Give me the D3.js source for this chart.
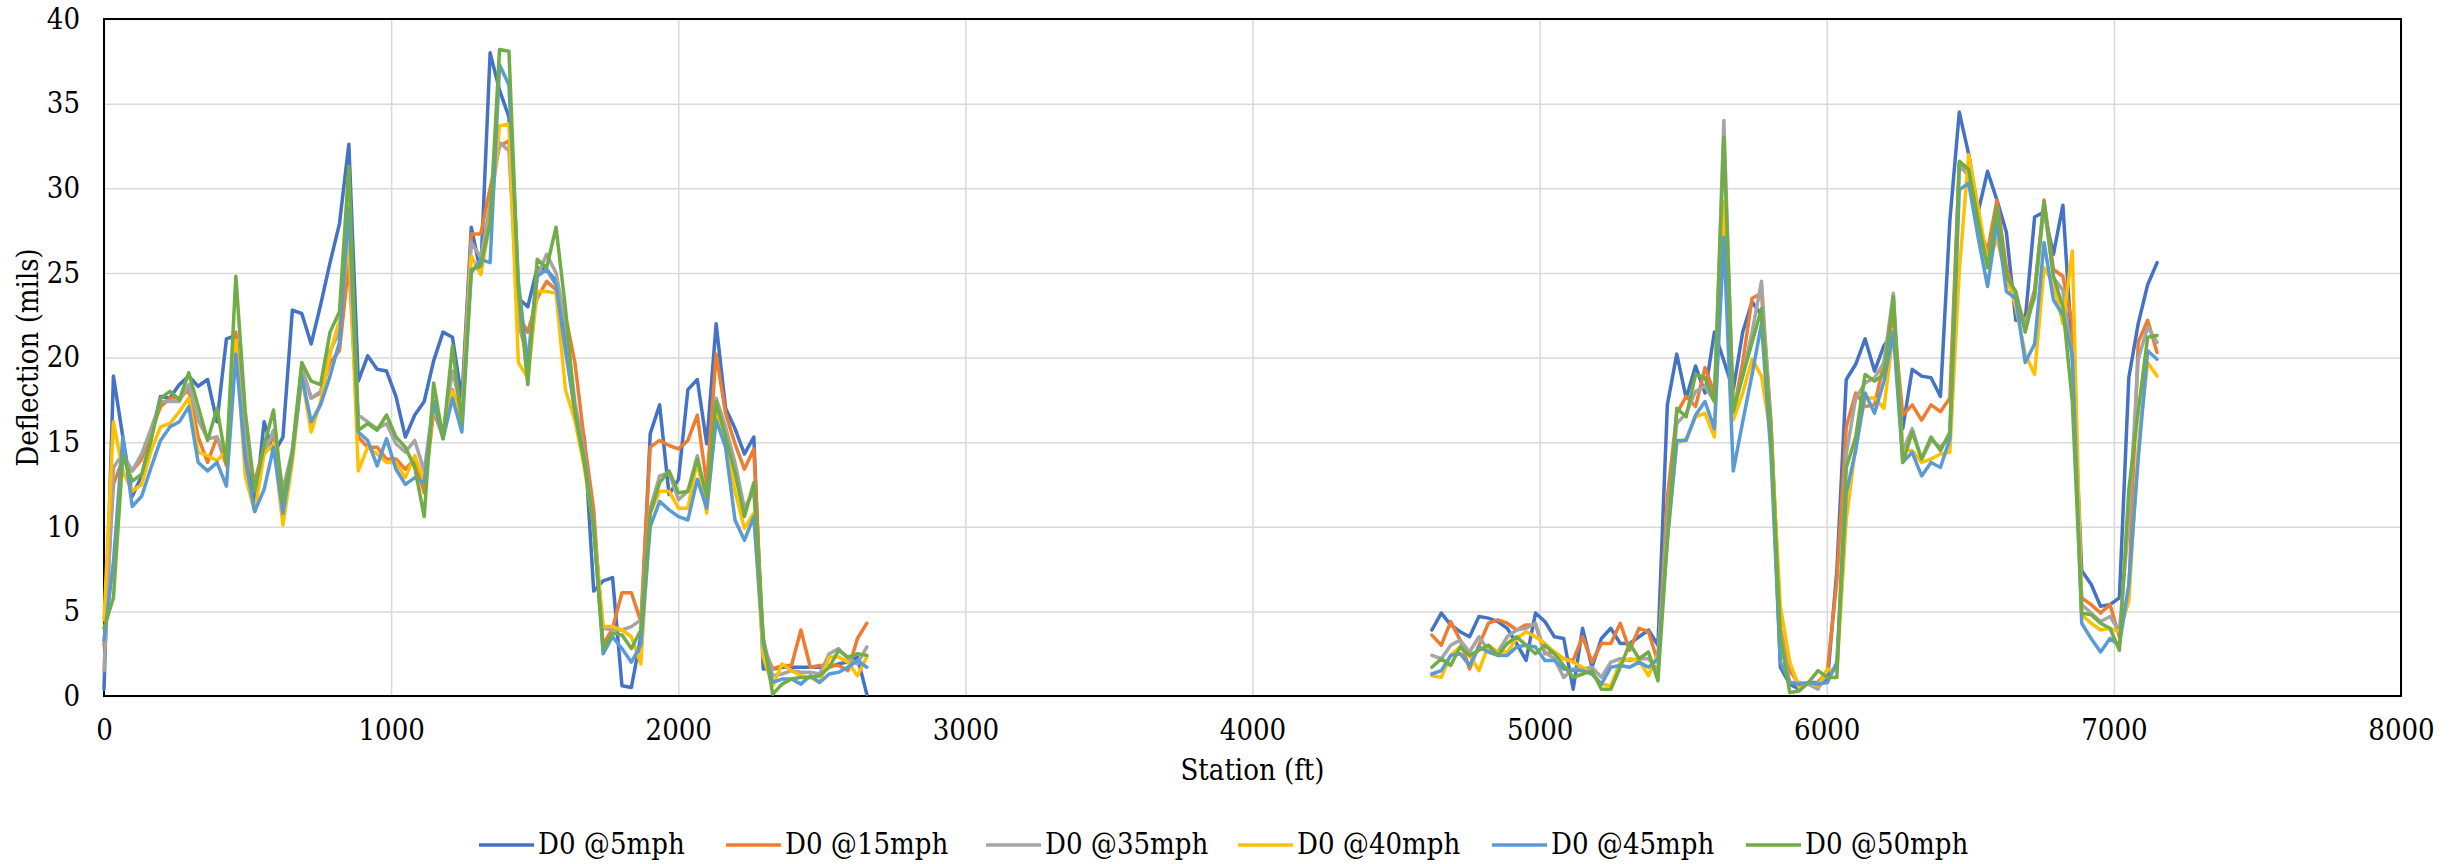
<!DOCTYPE html>
<html lang="en">
<head>
<meta charset="UTF-8">
<title>Deflection vs Station</title>
<script src="https://cdn.jsdelivr.net/npm/d3@7"></script>
<style>
    html, body { margin: 0; padding: 0; background: #fff; }
    svg { display: block; }
    svg text { font-family: "DejaVu Serif Condensed", "DejaVu Serif", serif; font-stretch: condensed; fill: #000; }
</style>
</head>
<body>
<svg id="chart"></svg>
<script>
    /* data: D0 deflection (mils), one reading every 10 m (32.8 ft) */
    const STEP_FT = 32.8;
    const stationsA = d3.range(0, 82).map(i => i * STEP_FT);     // 0 .. ~2657 ft
    const stationsB = d3.range(141, 219).map(i => i * STEP_FT);  // ~4625 .. ~7150 ft

    const seriesNames = ["D0 @5mph", "D0 @15mph", "D0 @35mph", "D0 @40mph", "D0 @45mph", "D0 @50mph"];
    const seriesColors = ["#4472C4", "#ED7D31", "#A5A5A5", "#FFC000", "#5B9BD5", "#70AD47"];

    const xTicks = [0, 1000, 2000, 3000, 4000, 5000, 6000, 7000, 8000];
    const yTicks = [0, 5, 10, 15, 20, 25, 30, 35, 40];

    const d5A = [0.4, 18.9, 15.3, 11.8, 13.0, 15.3, 17.7, 17.6, 18.4, 18.9,
        18.3, 18.7, 16.2, 21.1, 21.3, 16.1, 10.9, 16.2, 14.3, 15.3,
        22.8, 22.6, 20.8, 23.1, 25.6, 27.9, 32.6, 18.6, 20.1, 19.3,
        19.2, 17.7, 15.3, 16.6, 17.4, 19.8, 21.5, 21.2, 17.5, 27.7,
        25.0, 38.0, 35.8, 34.2, 23.5, 23.0, 25.3, 25.2, 24.5, 21.0,
        16.8, 15.3, 6.2, 6.8, 7.0, 0.6, 0.5, 3.5, 15.5, 17.2,
        11.9, 12.8, 18.1, 18.7, 14.9, 22.0, 17.0, 15.8, 14.3, 15.3,
        1.6, 1.6, 1.7, 1.7, 1.7, 1.7, 1.7, 1.7, 1.9, 2.0,
        2.3, 0.1];
    const d15A = [3.0, 12.5, 14.0, 13.3, 14.0, 15.6, 17.1, 17.6, 17.6, 18.1,
        15.3, 13.8, 15.3, 13.6, 21.5, 14.3, 12.7, 14.7, 15.3, 11.5,
        14.3, 19.4, 17.6, 17.9, 19.7, 20.4, 25.6, 15.3, 14.7, 14.7,
        14.0, 14.0, 13.4, 14.0, 12.0, 16.8, 15.3, 18.1, 16.3, 27.3,
        27.3, 30.0, 32.5, 32.8, 22.5, 21.5, 23.5, 24.5, 24.0, 22.5,
        19.7, 15.1, 11.0, 3.0, 4.0, 6.1, 6.1, 4.4, 14.7, 15.1,
        14.8, 14.6, 15.1, 16.6, 12.5, 20.2, 16.7, 14.9, 13.4, 14.6,
        2.9, 1.6, 1.8, 1.8, 3.9, 1.7, 1.8, 1.8, 1.8, 1.5,
        3.4, 4.3];
    const d35A = [1.5, 13.5, 14.3, 13.3, 14.3, 15.8, 17.4, 17.4, 17.4, 18.4,
        16.3, 15.2, 15.3, 14.0, 20.9, 15.3, 12.4, 14.3, 15.7, 12.2,
        14.5, 19.4, 17.6, 18.0, 20.4, 21.5, 27.9, 16.6, 16.2, 15.8,
        16.1, 14.9, 14.4, 15.1, 13.3, 17.4, 15.6, 19.2, 16.8, 26.8,
        25.9, 29.0, 32.7, 32.2, 22.0, 20.0, 24.8, 26.1, 25.0, 22.0,
        17.4, 14.3, 10.0, 4.0, 3.9, 3.9, 4.1, 4.5, 11.1, 13.0,
        13.2, 11.6, 12.1, 14.2, 11.4, 17.6, 15.9, 13.8, 11.1, 12.1,
        3.3, 1.2, 1.3, 1.5, 1.4, 1.4, 1.3, 2.5, 2.8, 2.2,
        1.9, 2.9];
    const d40A = [4.5, 16.2, 13.3, 12.1, 12.5, 14.5, 15.9, 16.1, 16.8, 17.6,
        14.4, 14.2, 13.9, 14.5, 21.0, 13.0, 10.9, 14.3, 14.9, 10.1,
        13.8, 18.9, 15.6, 17.4, 20.2, 22.2, 27.1, 13.3, 14.7, 14.3,
        13.8, 13.8, 12.9, 14.2, 12.7, 17.1, 15.3, 18.0, 16.1, 26.0,
        24.9, 28.0, 33.7, 33.8, 19.7, 18.8, 23.9, 23.9, 23.8, 18.1,
        16.3, 13.5, 10.0, 4.1, 4.1, 3.9, 3.5, 1.9, 10.8, 12.1,
        12.1, 11.1, 11.1, 13.9, 10.8, 16.8, 15.1, 12.1, 9.9, 10.8,
        2.3, 0.6, 1.9, 1.5, 1.2, 1.1, 0.8, 2.3, 2.3, 2.0,
        1.2, 2.3];
    const d45A = [3.3, 7.9, 15.3, 11.2, 11.8, 13.5, 15.1, 15.9, 16.2, 17.1,
        13.8, 13.3, 13.8, 12.4, 20.2, 14.0, 10.9, 12.2, 14.7, 10.8,
        14.3, 18.9, 16.2, 17.2, 18.9, 20.9, 28.9, 15.6, 15.1, 13.6,
        15.2, 13.4, 12.5, 12.9, 12.6, 17.4, 15.2, 17.6, 15.6, 25.0,
        25.8, 25.6, 37.3, 36.1, 24.5, 19.5, 24.8, 25.2, 24.3, 20.4,
        16.8, 14.0, 10.0, 2.5, 3.5, 2.8, 2.0, 3.0, 10.0, 11.5,
        11.0, 10.6, 10.4, 12.8, 11.1, 16.3, 14.7, 10.4, 9.2, 10.6,
        3.1, 0.8, 1.0, 1.0, 0.7, 1.2, 0.8, 1.3, 1.4, 1.7,
        2.1, 1.7];
    const d50A = [4.0, 5.8, 14.2, 12.7, 13.1, 15.1, 17.6, 18.0, 17.5, 19.1,
        17.1, 15.1, 17.0, 13.8, 24.8, 16.8, 12.1, 14.8, 16.9, 11.5,
        14.5, 19.7, 18.6, 18.4, 21.5, 22.7, 31.3, 15.7, 16.1, 15.7,
        16.6, 15.3, 14.7, 13.5, 10.6, 18.5, 15.2, 20.7, 16.1, 25.2,
        25.4, 28.0, 38.2, 38.1, 24.0, 18.4, 25.8, 25.3, 27.7, 22.9,
        16.8, 13.8, 9.9, 2.8, 3.7, 3.6, 2.8, 3.9, 10.8, 12.6,
        13.3, 12.0, 12.1, 14.0, 11.8, 17.4, 15.3, 13.2, 10.6, 12.6,
        3.5, 0.1, 0.7, 1.0, 1.1, 1.1, 1.2, 1.7, 2.7, 2.3,
        2.5, 2.4];

    const d5B = [3.9, 4.9, 4.2, 3.8, 3.5, 4.7, 4.6, 4.4, 4.0, 3.1,
        2.1, 4.9, 4.4, 3.5, 3.4, 0.4, 4.0, 1.7, 3.4, 4.0,
        3.1, 3.1, 3.5, 3.9, 3.0, 17.2, 20.2, 17.6, 19.5, 17.9,
        21.5, 19.8, 18.1, 21.5, 23.3, 22.5, 15.8, 1.7, 0.7, 0.4,
        0.8, 0.8, 0.9, 7.4, 18.7, 19.6, 21.1, 19.2, 20.7, 21.5,
        15.8, 19.3, 18.9, 18.8, 17.7, 28.1, 34.5, 32.0, 28.6, 31.0,
        29.3, 27.4, 22.2, 22.2, 28.3, 28.6, 26.1, 29.0, 20.2, 7.4,
        6.6, 5.3, 5.4, 5.8, 18.8, 22.0, 24.3, 25.6];
    const d15B = [3.6, 3.0, 4.4, 3.3, 1.6, 3.0, 4.3, 4.5, 4.3, 3.9,
        4.2, 4.2, 2.5, 2.6, 2.2, 2.1, 3.5, 2.0, 3.1, 3.1,
        4.3, 2.7, 4.0, 3.8, 2.0, 11.7, 16.7, 17.7, 17.1, 19.4,
        17.9, 27.5, 16.7, 19.7, 23.5, 23.8, 16.3, 4.0, 1.5, 0.7,
        0.7, 0.8, 1.5, 6.8, 15.9, 17.9, 17.1, 17.2, 19.7, 22.5,
        16.6, 17.2, 16.3, 17.2, 16.8, 17.6, 31.5, 30.7, 27.9, 26.3,
        29.3, 25.3, 23.5, 22.0, 24.0, 29.3, 25.2, 24.8, 22.0, 5.8,
        5.4, 4.9, 5.4, 3.5, 6.1, 20.9, 22.2, 20.3];
    const d35B = [2.4, 2.2, 3.0, 3.3, 2.6, 3.5, 2.7, 2.6, 3.5, 3.9,
        4.0, 4.3, 2.6, 2.2, 1.1, 1.6, 1.6, 1.7, 1.1, 2.0,
        2.2, 2.1, 2.2, 2.2, 1.5, 10.4, 16.1, 16.7, 18.0, 18.3,
        17.4, 34.0, 17.0, 18.9, 21.5, 24.5, 15.9, 3.8, 0.8, 0.8,
        0.7, 0.4, 1.5, 1.5, 14.3, 17.6, 18.5, 18.8, 19.7, 23.8,
        14.5, 15.8, 14.0, 15.1, 14.7, 15.3, 31.3, 30.8, 27.6, 25.6,
        28.6, 24.5, 23.5, 22.0, 23.5, 29.0, 24.7, 24.0, 19.9, 5.4,
        4.9, 4.4, 4.7, 3.8, 10.4, 19.9, 21.8, 20.9];
    const d40B = [1.2, 1.1, 2.4, 2.9, 2.4, 1.5, 3.0, 2.6, 2.6, 3.4,
        3.8, 3.5, 3.1, 2.6, 2.2, 2.0, 1.7, 1.3, 0.7, 0.6,
        2.0, 2.2, 2.1, 1.2, 2.5, 9.2, 14.9, 15.2, 16.5, 16.7,
        15.3, 29.2, 16.3, 17.9, 19.9, 18.9, 15.3, 5.3, 2.0, 0.5,
        0.8, 0.6, 1.6, 1.5, 10.4, 14.8, 17.6, 17.6, 17.0, 21.5,
        14.5, 14.5, 13.8, 14.0, 14.3, 14.4, 25.1, 32.0, 28.9, 25.6,
        27.0, 24.8, 23.0, 20.2, 19.0, 25.3, 24.4, 22.0, 26.3, 4.8,
        4.3, 3.9, 4.0, 3.8, 5.6, 14.8, 19.7, 18.9];
    const d45B = [1.3, 1.5, 2.4, 2.5, 1.8, 2.9, 2.6, 2.4, 2.4, 2.9,
        3.0, 2.9, 2.1, 2.1, 1.6, 1.5, 1.5, 1.3, 0.7, 1.7,
        1.8, 1.7, 2.0, 1.7, 2.2, 9.2, 15.1, 15.1, 16.6, 17.4,
        15.8, 27.1, 13.3, 16.2, 19.0, 22.0, 14.3, 2.0, 0.8, 0.7,
        0.8, 0.7, 0.8, 2.0, 12.0, 14.5, 17.9, 16.7, 18.6, 21.5,
        13.8, 14.4, 13.0, 13.8, 13.5, 15.2, 29.9, 30.3, 27.1, 24.2,
        28.0, 23.9, 23.5, 19.7, 20.8, 26.8, 23.4, 22.5, 20.2, 4.3,
        3.4, 2.6, 3.4, 3.0, 6.6, 14.0, 20.4, 19.9];
    const d50B = [1.7, 2.2, 1.8, 2.9, 2.4, 2.7, 3.0, 2.4, 3.1, 3.5,
        3.0, 2.5, 3.0, 2.5, 1.8, 1.1, 1.3, 1.5, 0.4, 0.4,
        1.7, 3.1, 2.2, 2.6, 0.9, 9.2, 17.0, 16.5, 19.0, 18.8,
        17.4, 33.0, 16.8, 18.9, 20.9, 22.9, 15.6, 3.5, 0.2, 0.3,
        0.8, 1.5, 1.1, 1.1, 13.5, 15.3, 19.0, 18.6, 19.0, 23.6,
        13.8, 15.6, 14.0, 15.3, 14.5, 15.6, 31.6, 31.1, 28.1, 25.3,
        28.9, 24.8, 23.9, 21.5, 23.8, 29.2, 24.8, 23.0, 17.4, 4.9,
        4.8, 4.3, 4.0, 2.7, 12.2, 16.8, 21.2, 21.3];

    const valuesA = [d5A, d15A, d35A, d40A, d45A, d50A];
    const valuesB = [d5B, d15B, d35B, d40B, d45B, d50B];

    /* layout */
    const width = 2456;
    const height = 864;
    const plot = {left: 104, right: 2401, top: 19, bottom: 696};
    const fontSize = 29;
    const legendX = [479, 726, 986, 1238, 1492, 1746];

    const svg = d3.select("#chart")
        .attr("width", width)
        .attr("height", height);

    svg.append("rect")
        .attr("width", width)
        .attr("height", height)
        .attr("fill", "#fff");

    const x = d3.scaleLinear().domain([0, 8000]).range([plot.left, plot.right]);
    const y = d3.scaleLinear().domain([0, 40]).range([plot.bottom, plot.top]);

    /* gridlines */
    svg.append("g")
        .attr("transform", `translate(0,${plot.bottom})`)
        .call(d3.axisBottom(x).tickValues(xTicks).tickSize(-(plot.bottom - plot.top)).tickFormat(""))
        .call(g => g.select(".domain").remove())
        .call(g => g.selectAll("line").attr("stroke", "#d9d9d9").attr("stroke-width", 1.5));

    svg.append("g")
        .attr("transform", `translate(${plot.left},0)`)
        .call(d3.axisLeft(y).tickValues(yTicks).tickSize(-(plot.right - plot.left)).tickFormat(""))
        .call(g => g.select(".domain").remove())
        .call(g => g.selectAll("line").attr("stroke", "#d9d9d9").attr("stroke-width", 1.5));

    /* tick labels */
    svg.append("g")
        .attr("transform", `translate(0,${plot.bottom})`)
        .call(d3.axisBottom(x).tickValues(xTicks).tickSize(0).tickPadding(23).tickFormat(d3.format("d")))
        .attr("font-size", fontSize)
        .call(g => g.select(".domain").remove());

    svg.append("g")
        .attr("transform", `translate(${plot.left},0)`)
        .call(d3.axisLeft(y).tickValues(yTicks).tickSize(0).tickPadding(24).tickFormat(d3.format("d")))
        .attr("font-size", fontSize)
        .call(g => g.select(".domain").remove());

    /* plot frame */
    svg.append("rect")
        .attr("x", plot.left)
        .attr("y", plot.top)
        .attr("width", plot.right - plot.left)
        .attr("height", plot.bottom - plot.top)
        .attr("fill", "none")
        .attr("stroke", "#000")
        .attr("stroke-width", 2);

    /* series lines, two surveyed stretches each */
    const line = d3.line()
        .x(d => x(d[0]))
        .y(d => y(d[1]));

    seriesNames.forEach((name, k) => {
        const g = svg.append("g").attr("class", "series");
        [[stationsA, valuesA[k]], [stationsB, valuesB[k]]].forEach(([st, vals]) => {
            g.append("path")
                .datum(d3.zip(st, vals))
                .attr("d", line)
                .attr("fill", "none")
                .attr("stroke", seriesColors[k])
                .attr("stroke-width", 3.5)
                .attr("stroke-linejoin", "round")
                .attr("stroke-linecap", "round");
        });
    });

    /* axis titles */
    svg.append("text")
        .attr("x", (plot.left + plot.right) / 2)
        .attr("y", 780)
        .attr("text-anchor", "middle")
        .attr("font-size", fontSize)
        .text("Station (ft)");

    svg.append("text")
        .attr("transform", `translate(38,${(plot.top + plot.bottom) / 2}) rotate(-90)`)
        .attr("text-anchor", "middle")
        .attr("font-size", fontSize)
        .text("Deflection (mils)");

    /* legend */
    const legend = svg.append("g");
    seriesNames.forEach((name, k) => {
        const lx = legendX[k];
        legend.append("line")
            .attr("x1", lx).attr("x2", lx + 55)
            .attr("y1", 845).attr("y2", 845)
            .attr("stroke", seriesColors[k])
            .attr("stroke-width", 3.5);
        legend.append("text")
            .attr("x", lx + 59)
            .attr("y", 854)
            .attr("font-size", fontSize)
            .text(name);
    });
</script>
</body>
</html>
